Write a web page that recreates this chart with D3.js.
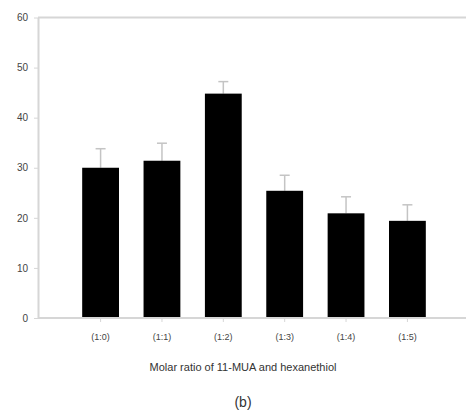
<!DOCTYPE html>
<html lang="en">
<head>
    <meta charset="UTF-8">
    <title>Molar ratio bar chart</title>
    <script src="https://d3js.org/d3.v7.min.js"></script>
    <style>
        body {
            margin: 0;
            background: #fff;
            font-family: "Liberation Sans", Arial, sans-serif;
        }
        svg {
            display: block;
        }
        .axis text {
            font-size: 10px;
            fill: #444;
        }
        .axis line,
        .axis path {
            stroke: #d6d6d6;
            fill: none;
        }
    </style>
</head>
<body>
    <svg id="chart" width="466" height="412"></svg>
    <script>
        // values
        var ratios = ["(1:0)", "(1:1)", "(1:2)", "(1:3)", "(1:4)", "(1:5)"];
        var means  = [30.0, 31.4, 44.8, 25.4, 20.9, 19.4];
        var errors = [3.8, 3.5, 2.4, 3.1, 3.3, 3.2];
        var yTicks = [0, 10, 20, 30, 40, 50, 60];

        var data = ratios.map(function(r, i) {
            return {ratio: r, mean: means[i], err: errors[i]};
        });

        // plot box (top is a reserved global in browsers, so use other names)
        var plotLeft = 38, plotRight = 470, plotTop = 17.5, plotBottom = 318;

        var x = d3.scaleBand()
            .domain(ratios)
            .range([plotLeft, plotRight])
            .paddingInner(0.4)
            .paddingOuter(0.72);

        var y = d3.scaleLinear()
            .domain([0, 60])
            .range([plotBottom, plotTop]);

        var svg = d3.select("#chart");

        // top frame line
        svg.append("line")
            .attr("x1", plotLeft).attr("x2", 466)
            .attr("y1", y(60)).attr("y2", y(60))
            .attr("stroke", "#d6d6d6")
            .attr("stroke-width", 2);

        // error bars (upper only)
        var eb = svg.selectAll(".err")
            .data(data)
          .enter().append("g")
            .attr("class", "err")
            .attr("stroke", "#c4c4c4")
            .attr("stroke-width", 1.5);

        eb.append("line")
            .attr("x1", function(d) { return x(d.ratio) + x.bandwidth() / 2; })
            .attr("x2", function(d) { return x(d.ratio) + x.bandwidth() / 2; })
            .attr("y1", function(d) { return y(d.mean); })
            .attr("y2", function(d) { return y(d.mean + d.err); });

        eb.append("line")
            .attr("x1", function(d) { return x(d.ratio) + x.bandwidth() / 2 - 5; })
            .attr("x2", function(d) { return x(d.ratio) + x.bandwidth() / 2 + 5; })
            .attr("y1", function(d) { return y(d.mean + d.err); })
            .attr("y2", function(d) { return y(d.mean + d.err); });

        // bars
        svg.selectAll(".bar")
            .data(data)
          .enter().append("rect")
            .attr("class", "bar")
            .attr("x", function(d) { return x(d.ratio); })
            .attr("width", x.bandwidth())
            .attr("y", function(d) { return y(d.mean); })
            .attr("height", function(d) { return plotBottom - y(d.mean); })
            .attr("fill", "#000");

        // x axis
        var xAxis = svg.append("g")
            .attr("class", "axis")
            .attr("transform", "translate(0," + plotBottom + ")")
            .call(d3.axisBottom(x).tickSize(4).tickSizeOuter(0).tickPadding(8));
        xAxis.select(".domain")
            .attr("d", "M" + plotLeft + ",0H466")
            .attr("stroke-width", 2);
        xAxis.selectAll("text").attr("dy", "1.1em").style("font-size", "9px");

        // y axis
        var yAxis = svg.append("g")
            .attr("class", "axis")
            .attr("transform", "translate(" + plotLeft + ",0)")
            .call(d3.axisLeft(y).tickValues(yTicks).tickSize(4).tickSizeOuter(0).tickPadding(6));
        yAxis.select(".domain").attr("stroke-width", 2);

        // axis title
        svg.append("text")
            .attr("x", 243)
            .attr("y", 371)
            .attr("text-anchor", "middle")
            .style("font-size", "11px")
            .style("fill", "#333")
            .text("Molar ratio of 11-MUA and hexanethiol");

        svg.append("text")
            .attr("x", 243)
            .attr("y", 407)
            .attr("text-anchor", "middle")
            .style("font-size", "14px")
            .style("fill", "#333")
            .text("(b)");
    </script>
</body>
</html>
